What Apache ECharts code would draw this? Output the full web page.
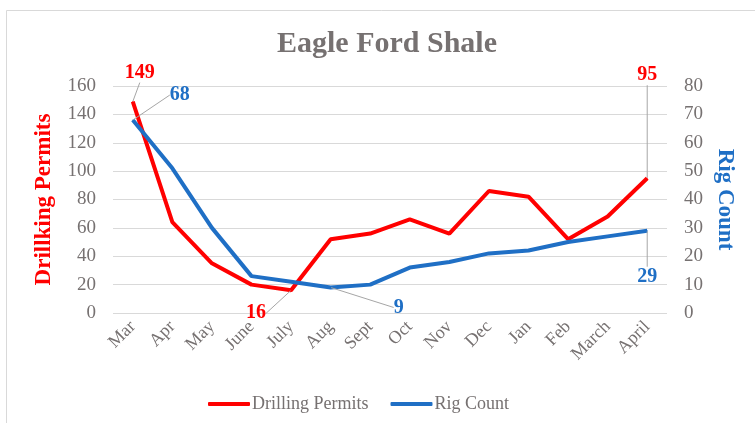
<!DOCTYPE html>
<html><head><meta charset="utf-8">
<script src="https://cdn.jsdelivr.net/npm/echarts@6/dist/echarts.min.js"></script>
<style>html,body{margin:0;padding:0;background:#fff}#c{width:755px;height:423px}</style>
</head><body><div id="c"></div>
<script>
const categories = ['Mar','Apr','May','June','July','Aug','Sept','Oct','Nov','Dec','Jan','Feb','March','April'];
const drillingPermits = [149,64,35,20,16,52,56,66,56,86,82,52,68,95];
const rigCount = [68,51,30,13,11,9,10,16,18,21,22,25,27,29];
const leftTicks = [0,20,40,60,80,100,120,140,160];
const rightTicks = [0,10,20,30,40,50,60,70,80];

const serif = '"Liberation Serif","Times New Roman",serif';
const grey = '#767171';
const red = '#ff0000';
const blue = '#1f6fc5';

const redLabels = {0: [7, -29], 4: [-35, 23], 13: [0, -103]};
const blueLabels = {0: [47, -25], 5: [68, 20], 13: [0, 46]};

function mkData(vals, labels, color) {
  return vals.map((v, i) => {
    if (labels[i]) {
      return {value: v,
        label: {show: true, position: 'inside', color: color, fontFamily: serif, fontWeight: 'bold', fontSize: 20, formatter: '{c}'},
        labelLine: {show: true, lineStyle: {color: '#a6a6a6', width: 1}}};
    }
    return {value: v};
  });
}
function layoutFn(labels) {
  return function (p) {
    const o = labels[p.dataIndex];
    return o ? {dx: o[0], dy: o[1]} : {};
  };
}

const chart = echarts.init(document.getElementById('c'), null, {renderer: 'canvas'});
chart.setOption({
  animation: false,
  backgroundColor: '#fff',
  graphic: [{type: 'rect', shape: {x: 6.5, y: 10.5, width: 760, height: 430}, style: {fill: 'none', stroke: '#d9d9d9', lineWidth: 1}}],
  title: {text: 'Eagle Ford Shale', left: 272, top: 24, textStyle: {fontFamily: serif, fontWeight: 'bold', fontSize: 30, color: grey}},
  legend: {
    bottom: 5, left: 203, itemWidth: 42, itemHeight: 4, itemGap: 22,
    icon: 'roundRect',
    textStyle: {fontFamily: serif, fontSize: 18, color: grey, padding: [0,0,0,-3]},
    data: ['Drilling Permits', 'Rig Count']
  },
  grid: {left: 113, right: 88, top: 86, bottom: 110},
  xAxis: {
    type: 'category', data: categories, boundaryGap: true,
    axisLine: {show: false}, axisTick: {show: false},
    axisLabel: {rotate: 45, fontFamily: serif, fontSize: 18, color: grey, margin: 11, interval: 0}
  },
  yAxis: [{
    type: 'value', min: 0, max: 160, interval: 20,
    name: 'Drillking Permits', nameLocation: 'middle', nameGap: 57, nameRotate: 90,
    nameTextStyle: {fontFamily: serif, fontWeight: 'bold', fontSize: 23, color: red},
    axisLabel: {fontFamily: serif, fontSize: 19, color: grey, margin: 17,
      formatter: v => leftTicks.includes(v) ? String(v) : ''},
    axisLine: {show: false}, axisTick: {show: false},
    splitLine: {lineStyle: {color: '#d9d9d9', width: 1}}
  }, {
    type: 'value', min: 0, max: 80, interval: 10, position: 'right',
    name: 'Rig Count', nameLocation: 'middle', nameGap: 40, nameRotate: -90,
    nameTextStyle: {fontFamily: serif, fontWeight: 'bold', fontSize: 23, color: blue},
    axisLabel: {fontFamily: serif, fontSize: 19, color: grey, margin: 17,
      formatter: v => rightTicks.includes(v) ? String(v) : ''},
    axisLine: {show: false}, axisTick: {show: false},
    splitLine: {show: false}
  }],
  series: [{
    name: 'Drilling Permits', type: 'line', yAxisIndex: 0,
    data: mkData(drillingPermits, redLabels, red),
    labelLayout: layoutFn(redLabels),
    symbol: 'circle', symbolSize: 1, showSymbol: true,
    itemStyle: {color: red},
    lineStyle: {color: red, width: 4},
    z: 3
  }, {
    name: 'Rig Count', type: 'line', yAxisIndex: 1,
    data: mkData(rigCount, blueLabels, blue),
    labelLayout: layoutFn(blueLabels),
    symbol: 'circle', symbolSize: 1, showSymbol: true,
    itemStyle: {color: blue},
    lineStyle: {color: blue, width: 4},
    z: 4
  }]
});
</script></body></html>
